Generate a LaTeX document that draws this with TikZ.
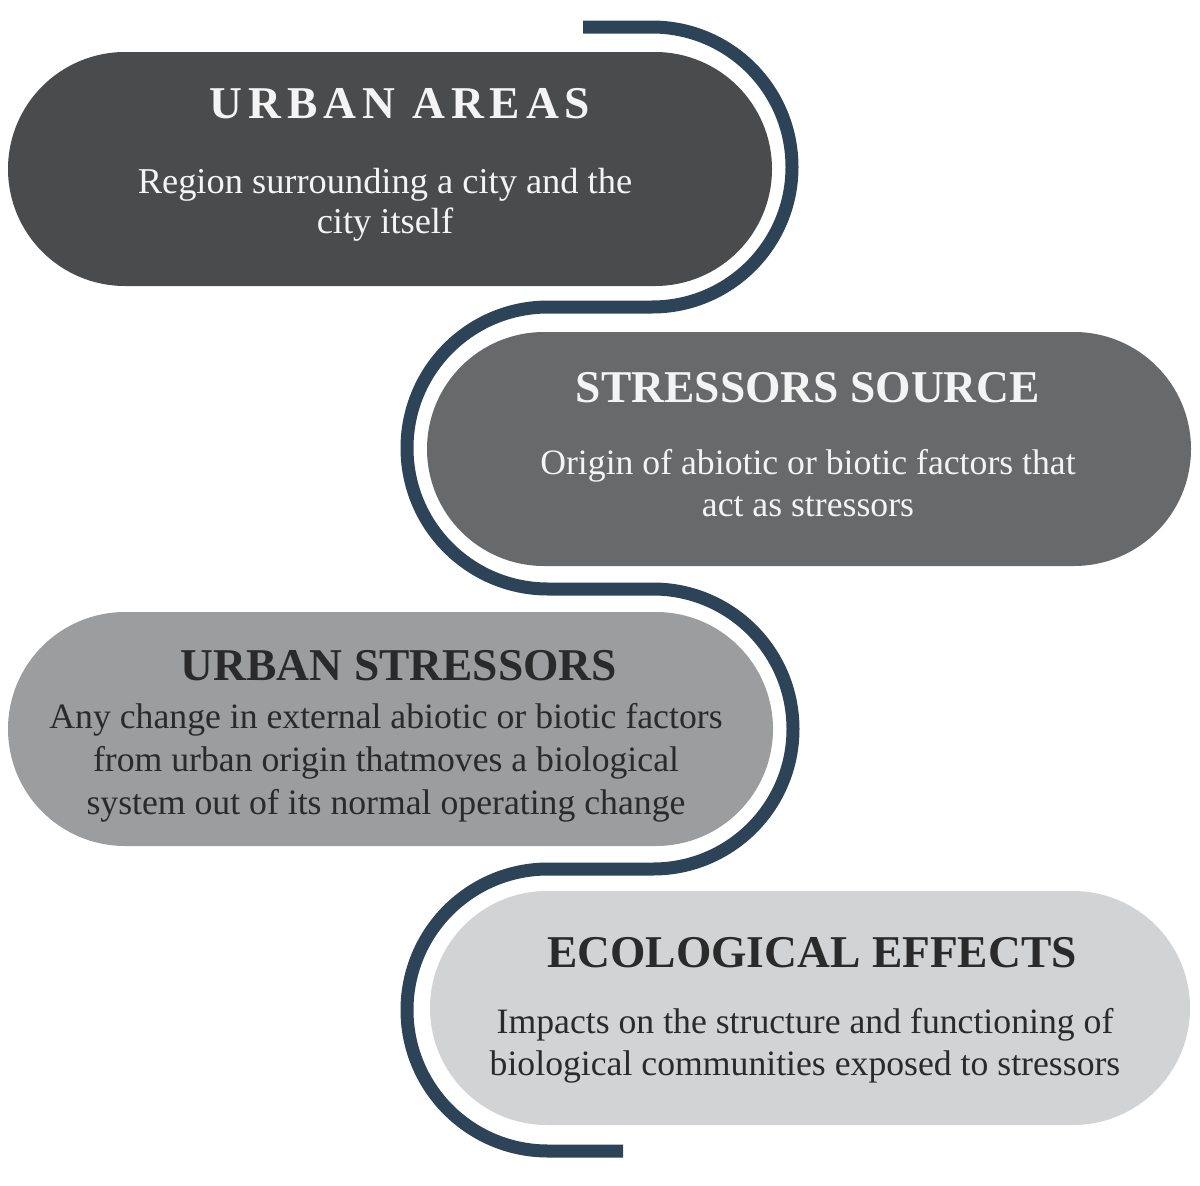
\documentclass[tikz,border=0pt]{standalone}
\usepackage{fontspec}
\setmainfont{Liberation Serif}
\usetikzlibrary{shapes.misc}
\definecolor{pillA}{HTML}{4A4B4D}
\definecolor{pillB}{HTML}{67696A}
\definecolor{pillC}{HTML}{9B9D9E}
\definecolor{pillD}{HTML}{D2D3D4}
\definecolor{snake}{HTML}{2D4358}
\definecolor{lighttxt}{HTML}{F4F4F4}
\definecolor{darktxt}{HTML}{2A2A2A}
\begin{document}
\begin{tikzpicture}[x=1pt,y=-1pt,
  pill/.style={rounded rectangle, inner sep=0pt, outer sep=0pt,
    minimum height=234pt},
  ttl/.style={anchor=base, inner sep=0pt,
    font=\fontsize{45.5}{50}\selectfont\bfseries},
  body/.style={anchor=base, inner sep=0pt, align=center},
  snakeline/.style={draw=snake, line width=13pt, line cap=butt}]
\useasboundingbox (0,0) rectangle (1200,1186);
% pills
\node[pill, fill=pillA, minimum width=764pt] (p1) at (390,169) {};
\node[pill, fill=pillB, minimum width=764pt] (p2) at (809,449) {};
\node[pill, fill=pillC, minimum width=765pt] (p3) at (390.5,729) {};
\node[pill, fill=pillD, minimum width=760pt] (p4) at (810,1008) {};
% snake
\coordinate (s0) at (583,27);
\coordinate (s1) at (623,1151);
\draw[snakeline] (s0) -- (652,27) arc (-90:90:140) -- (548,307)
  arc (-90:-270:141) -- (653,589) arc (-90:90:140) -- (548,869)
  arc (-90:-270:141) -- (s1);
% texts (body nodes are anchored at the baseline of their last line)
\node[ttl, text=lighttxt] (t1) at (400,118)
  {\addfontfeature{LetterSpace=13}URBAN AREAS};
\node[body, text=lighttxt, font=\fontsize{36.4}{40}\selectfont] (b1) at (385,233)
  {Region surrounding a city and the\\city itself};
\node[ttl, text=lighttxt] (t2) at (808,402) {STRESSORS SOURCE};
\node[body, text=lighttxt, font=\fontsize{35.7}{42}\selectfont] (b2) at (808,516)
  {Origin of abiotic or biotic factors that\\act as stressors};
\node[ttl, text=darktxt] (t3) at (399,680) {URBAN STRESSORS};
\node[body, text=darktxt, font=\fontsize{35.7}{43}\selectfont] (b3) at (386,814)
  {Any change in external abiotic or biotic factors\\from urban origin thatmoves a biological\\system out of its normal operating change};
\node[ttl, text=darktxt] (t4) at (812,967) {ECOLOGICAL EFFECTS};
\node[body, text=darktxt, font=\fontsize{35.7}{42}\selectfont] (b4) at (805,1075)
  {Impacts on the structure and functioning of\\biological communities exposed to stressors};
\end{tikzpicture}
\end{document}
